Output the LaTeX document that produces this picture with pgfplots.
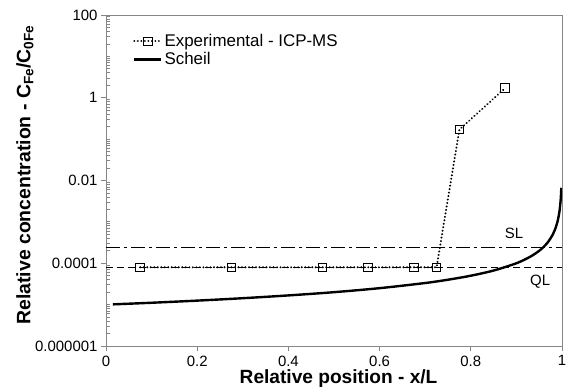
\documentclass[border=0pt]{standalone}
\usepackage{fontspec}
\setmainfont{Liberation Sans}
\usepackage{pgfplots}
\pgfplotsset{compat=1.18}
\definecolor{axgray}{RGB}{134,134,134}
\begin{document}
\begin{tikzpicture}
\path[use as bounding box] (-106bp,-46bp) rectangle (470bp,346bp);
\begin{axis}[
  at={(0,0)}, anchor=south west,
  scale only axis, width=456bp, height=331bp,
  xmin=0, xmax=1, ymode=log, ymin=1e-6, ymax=100,
  xtick={0,0.2,0.4,0.6,0.8,1},
  xticklabels={0,0.2,0.4,0.6,0.8,1},
  ytick={1e-6,1e-4,1e-2,1,100},
  yticklabels={0.000001,0.0001,0.01,1,100},
  extra y ticks={2e-6,3e-6,4e-6,5e-6,6e-6,7e-6,8e-6,9e-6,1e-5,2e-5,3e-5,4e-5,5e-5,6e-5,7e-5,8e-5,9e-5,
    2e-4,3e-4,4e-4,5e-4,6e-4,7e-4,8e-4,9e-4,1e-3,2e-3,3e-3,4e-3,5e-3,6e-3,7e-3,8e-3,9e-3,
    2e-2,3e-2,4e-2,5e-2,6e-2,7e-2,8e-2,9e-2,1e-1,2e-1,3e-1,4e-1,5e-1,6e-1,7e-1,8e-1,9e-1,
    2,3,4,5,6,7,8,9,10,20,30,40,50,60,70,80,90},
  extra y tick labels={},
  extra y tick style={tick align=inside, major tick length=4bp},
  xtick pos=bottom, ytick pos=left,
  tick align=outside, major tick length=5bp,
  axis line style={axgray, line width=0.9bp},
  every tick/.style={axgray, line width=0.8bp},
  tick label style={font=\fontsize{15}{18}\selectfont, black},
  xticklabel style={inner sep=0.5bp, yshift=-4bp},
  /pgf/number format/assume math mode=true,
  xlabel={\textbf{Relative position - x/L}},
  xlabel style={font=\fontsize{19.2}{22}\selectfont, inner sep=0pt, at={(axis description cs:0.51,0)}, anchor=base, yshift=-37bp},
  ylabel={\textbf{Relative concentration - C\textsubscript{Fe}/C\textsubscript{0Fe}}},
  ylabel style={font=\fontsize{19.5}{22}\selectfont, at={(axis description cs:-0.178,0.517)}, rotate=0, anchor=center},
  legend style={draw=none, fill=none, at={(axis description cs:0.059,0.948)}, anchor=north west,
    inner xsep=0pt, inner ysep=0pt, font=\fontsize{17}{19}\selectfont, row sep=0.5bp,
    nodes={inner xsep=2bp}},
  legend cell align=left,
  legend image code/.code={\draw[mark repeat=2,mark phase=2,#1] plot coordinates {(0bp,0bp)(13.5bp,0bp)(27bp,0bp)};},
]
\addplot[forget plot, black, line width=1.1bp, dash pattern=on 14bp off 4bp on 3bp off 4bp] coordinates {(0,2.4e-4) (1,2.4e-4)};
\addplot[forget plot, black, line width=1.1bp, dash pattern=on 7bp off 4bp] coordinates {(0,8e-5) (1,8e-5)};
\addplot[black, line width=2.2bp, line cap=round, dash pattern=on 0.01bp off 3.5bp,
  mark=square, mark size=4.3bp, mark options={solid, line width=0.9bp, fill=none}]
  coordinates {(0.075,8e-5) (0.275,8e-5) (0.475,8e-5) (0.575,8e-5) (0.675,8e-5) (0.725,8e-5) (0.775,0.17) (0.875,1.7)};
\addlegendentry{Experimental - ICP-MS}
\addplot[black, line width=2.4bp, no marks, smooth] coordinates {
 (0.015,1.015e-5) (0.1,1.11e-5) (0.2,1.25e-5) (0.3,1.43e-5) (0.4,1.67e-5) (0.5,2.0e-5)
 (0.6,2.5e-5) (0.7,3.33e-5) (0.75,4.0e-5) (0.8,5.0e-5) (0.85,6.67e-5) (0.9,1.0e-4)
 (0.93,1.43e-4) (0.95,2.0e-4) (0.96,2.5e-4) (0.97,3.33e-4) (0.98,5.0e-4) (0.985,6.67e-4)
 (0.99,1.0e-3) (0.993,1.43e-3) (0.995,2.0e-3) (0.997,3.33e-3) (0.998,5.0e-3) (0.9985,6.67e-3)};
\addlegendentry{Scheil}
\node[font=\fontsize{15}{18}\selectfont] at (axis cs:0.895,5.4e-4) {SL};
\node[font=\fontsize{15}{18}\selectfont] at (axis cs:0.952,3.5e-5) {QL};
\end{axis}
\end{tikzpicture}
\end{document}
